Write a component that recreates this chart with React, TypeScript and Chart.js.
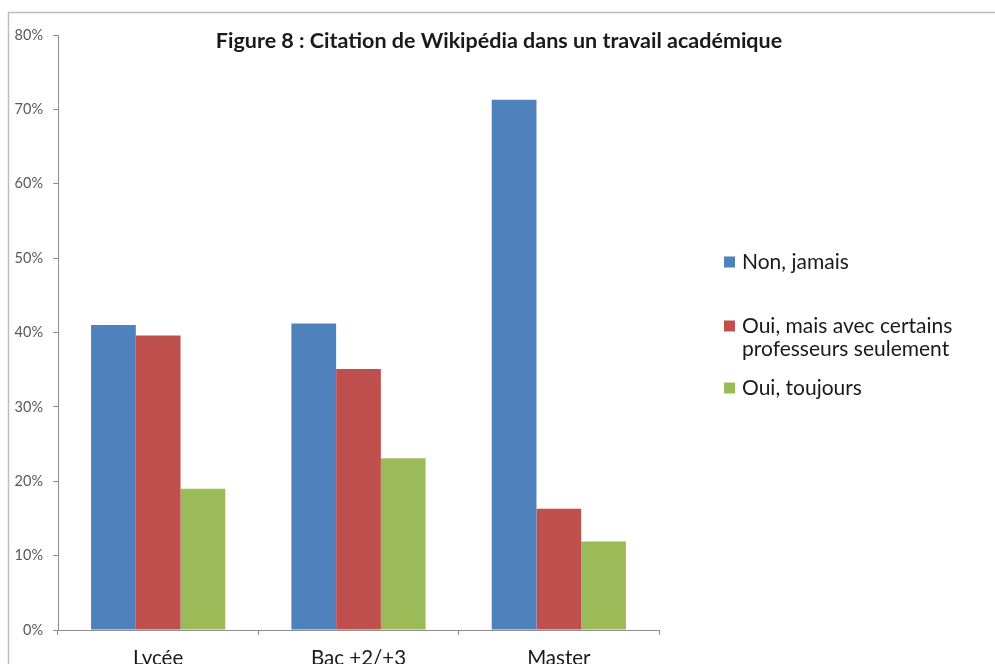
import React, { useEffect, useRef } from "react";
import { Chart, registerables } from "chart.js";

Chart.register(...registerables);

const chartTitle = "Figure 8 : Citation de Wikipédia dans un travail académique";
const categories = ["Lycée", "Bac +2/+3", "Master"];
const seriesNames = ["Non, jamais", "Oui, mais avec certains professeurs seulement", "Oui, toujours"];
const legendLines = [["Non, jamais"], ["Oui, mais avec certains", "professeurs seulement"], ["Oui, toujours"]];
const nonJamais = [41.0, 41.2, 71.3];
const ouiCertains = [39.6, 35.1, 16.3];
const ouiToujours = [19.0, 23.1, 11.9];
const seriesColors = ["#4F81BD", "#C0504D", "#9BBB59"];
const yMax = 80;
const yStep = 10;

const W = 995;
const H = 690;

const decorPlugin = {
  id: "decor",
  afterDraw(chart: any) {
    const ctx = chart.ctx;
    ctx.save();
    // outer frame
    ctx.strokeStyle = "#bdbdbd";
    ctx.lineWidth = 1.5;
    ctx.beginPath();
    ctx.moveTo(W, 12.5);
    ctx.lineTo(8.5, 12.5);
    ctx.lineTo(8.5, H);
    ctx.stroke();
    // title
    ctx.fillStyle = "#1a1a1a";
    ctx.font = "bold 21.5px Lato";
    ctx.textAlign = "center";
    ctx.textBaseline = "alphabetic";
    ctx.fillText(chartTitle, 499, 48);
    // legend
    const rowsY = [262, 326, 388];
    ctx.font = "21px Lato";
    ctx.textAlign = "left";
    ctx.textBaseline = "middle";
    legendLines.forEach((lines, i) => {
      const y = rowsY[i];
      ctx.fillStyle = seriesColors[i];
      ctx.fillRect(724, y - 5.5, 11, 11);
      ctx.fillStyle = "#1a1a1a";
      lines.forEach((ln, j) => {
        ctx.fillText(ln, 742, y + j * 23);
      });
    });
    ctx.restore();
  },
};

export default function App() {
  const ref = useRef<HTMLCanvasElement>(null);
  useEffect(() => {
    if (!ref.current) return;
    const datasets = [nonJamais, ouiCertains, ouiToujours].map((d, i) => ({
      label: seriesNames[i],
      data: d,
      backgroundColor: seriesColors[i],
      borderWidth: 0,
      categoryPercentage: 0.67,
      barPercentage: 1.0,
    }));
    const chart = new Chart(ref.current, {
      type: "bar",
      data: { labels: categories, datasets },
      options: {
        animation: false,
        responsive: false,
        layout: { padding: { left: 8, right: 336, top: 35, bottom: 0 } },
        plugins: { legend: { display: false }, title: { display: false }, tooltip: { enabled: false } },
        scales: {
          x: {
            afterFit(scale: any) {
              scale.height = 60;
            },
            border: { display: true, color: "#8c8c8c", width: 1 },
            grid: { display: true, drawOnChartArea: false, drawTicks: true, tickLength: 5, color: "#8c8c8c", offset: true },
            ticks: { color: "#1a1a1a", font: { family: "Lato", size: 20.5 }, padding: 11, maxRotation: 0 },
          },
          y: {
            min: 0,
            max: yMax,
            afterFit(scale: any) {
              scale.width = 50;
            },
            border: { display: true, color: "#8c8c8c", width: 1 },
            grid: { display: true, drawOnChartArea: false, drawTicks: true, tickLength: 5, color: "#8c8c8c" },
            ticks: {
              stepSize: yStep,
              color: "#595959",
              font: { family: "Lato", size: 14.5 },
              padding: 10,
              callback: (v: any) => v + "%",
            },
          },
        },
      },
      plugins: [decorPlugin],
    });
    return () => chart.destroy();
  }, []);
  return (
    <div style={{ position: "fixed", left: 0, top: 0, width: W, height: 664, overflow: "hidden", background: "#fff" }}>
      <canvas ref={ref} width={W} height={H} style={{ display: "block", width: W, height: H }} />
    </div>
  );
}
